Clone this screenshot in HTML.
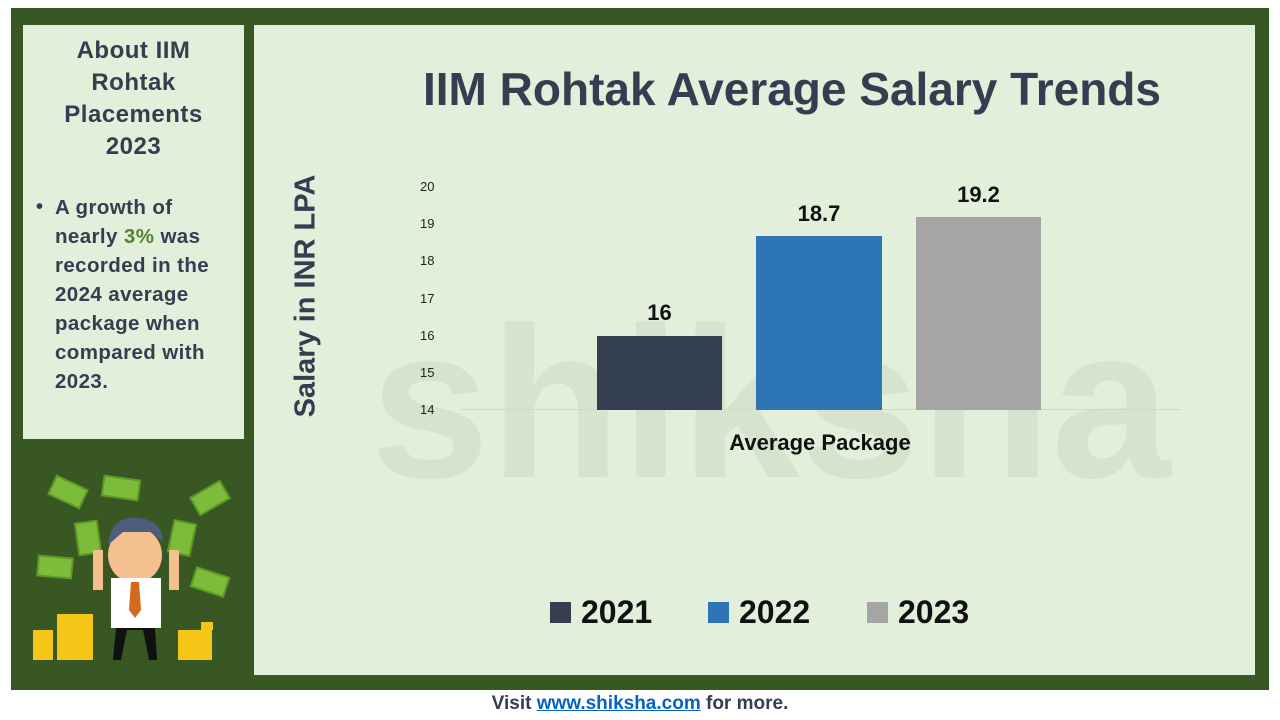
<!DOCTYPE html>
<html><head><meta charset="utf-8"><style>
*{margin:0;padding:0;box-sizing:border-box}
body{width:1280px;height:720px;background:#fff;position:relative;overflow:hidden;font-family:"Liberation Sans","DejaVu Sans",sans-serif;color:#333f50}
.abs{position:absolute}
</style></head><body>
<div class="abs" style="left:11px;top:8px;width:1258px;height:682px;background:#385723"></div>
<div class="abs" style="left:23px;top:25px;width:221px;height:414px;background:#e2efda"></div>
<div class="abs" style="left:254px;top:25px;width:1001px;height:650px;background:#e2efda;overflow:hidden">
<div class="abs" style="left:116px;top:270px;font-size:215px;font-weight:bold;color:#d6e3ce;letter-spacing:0px;line-height:1">shiksha</div>
</div>
<div class="abs" style="left:23px;top:35px;width:221px;text-align:center;font-size:24px;font-weight:bold;line-height:32px;letter-spacing:0.5px">About IIM<br>Rohtak<br>Placements<br>2023</div>
<div class="abs" style="left:36px;top:193px;font-size:20px;font-weight:bold;line-height:29px">•</div>
<div class="abs" style="left:55px;top:193px;width:180px;font-size:20.5px;font-weight:bold;line-height:29px;letter-spacing:0.4px">A growth of nearly <span style="color:#548235">3%</span> was recorded in the 2024 average package when compared with 2023.</div>
<svg class="abs" style="left:23px;top:460px" width="221" height="210">
<g fill="#7dbb3a" stroke="#5c9a25" stroke-width="2">
<rect x="28" y="22" width="34" height="20" transform="rotate(25 45 32)"/>
<rect x="80" y="18" width="36" height="20" transform="rotate(8 98 28)"/>
<rect x="170" y="28" width="34" height="20" transform="rotate(-30 187 38)"/>
<rect x="54" y="62" width="22" height="32" transform="rotate(-8 65 78)"/>
<rect x="148" y="62" width="22" height="32" transform="rotate(12 159 78)"/>
<rect x="15" y="97" width="34" height="20" transform="rotate(5 32 107)"/>
<rect x="170" y="112" width="34" height="20" transform="rotate(18 187 122)"/>
</g>
<g fill="#f5c518"><rect x="10" y="170" width="20" height="30"/><rect x="34" y="154" width="36" height="46"/><rect x="155" y="170" width="34" height="30"/><rect x="178" y="162" width="12" height="8"/></g>
<ellipse cx="112" cy="95" rx="27" ry="28" fill="#f5c08f"/>
<path d="M85 85 Q88 55 115 58 Q140 60 140 82 L128 72 L100 72Z" fill="#4b5f7d"/>
<rect x="88" y="118" width="50" height="50" fill="#fff"/>
<path d="M108 122 L116 122 L118 150 L112 158 L106 150Z" fill="#d2691e"/>
<path d="M93 168 L90 200 L98 200 L104 170 L120 170 L126 200 L134 200 L132 168Z" fill="#111"/>
<rect x="70" y="90" width="10" height="40" fill="#f5c08f"/><rect x="146" y="90" width="10" height="40" fill="#f5c08f"/>
</svg>
<div class="abs" style="left:392px;top:62px;width:800px;text-align:center;font-size:46px;font-weight:bold;color:#333f50;white-space:nowrap">IIM Rohtak Average Salary Trends</div>
<div class="abs" style="left:306px;top:296px;transform:translate(-50%,-50%) rotate(-90deg);font-size:29px;font-weight:bold;white-space:nowrap;color:#333f50">Salary in INR LPA</div>
<div class="abs" style="left:420px;top:178px;width:24px;font-size:13px;color:#222;line-height:18px;text-align:right">
<div style="position:absolute;top:0">20</div><div style="position:absolute;top:37px">19</div><div style="position:absolute;top:74px">18</div><div style="position:absolute;top:112px">17</div><div style="position:absolute;top:149px">16</div><div style="position:absolute;top:186px">15</div><div style="position:absolute;top:223px">14</div></div>
<div class="abs" style="left:460px;top:409px;width:720px;height:1px;background:#cfd8cc"></div>
<div class="abs" style="left:597px;top:336px;width:125px;height:74px;background:#333f50"></div>
<div class="abs" style="left:756px;top:236px;width:126px;height:174px;background:#2e75b6"></div>
<div class="abs" style="left:916px;top:217px;width:125px;height:193px;background:#a5a5a5"></div>
<div class="abs" style="left:597px;top:300px;width:125px;text-align:center;font-size:22px;font-weight:bold;color:#111">16</div>
<div class="abs" style="left:756px;top:201px;width:126px;text-align:center;font-size:22px;font-weight:bold;color:#111">18.7</div>
<div class="abs" style="left:916px;top:182px;width:125px;text-align:center;font-size:22px;font-weight:bold;color:#111">19.2</div>
<div class="abs" style="left:660px;top:430px;width:320px;text-align:center;font-size:22px;font-weight:bold;color:#111">Average Package</div>
<div class="abs" style="left:550px;top:602px;width:21px;height:21px;background:#333f50"></div>
<div class="abs" style="left:581px;top:594px;font-size:32px;font-weight:bold;color:#111">2021</div>
<div class="abs" style="left:708px;top:602px;width:21px;height:21px;background:#2e75b6"></div>
<div class="abs" style="left:739px;top:594px;font-size:32px;font-weight:bold;color:#111">2022</div>
<div class="abs" style="left:867px;top:602px;width:21px;height:21px;background:#a5a5a5"></div>
<div class="abs" style="left:898px;top:594px;font-size:32px;font-weight:bold;color:#111">2023</div>
<div class="abs" style="left:0;top:693px;width:1280px;text-align:center;font-size:19px;font-weight:bold;color:#333f50">Visit <span style="color:#0563c1;text-decoration:underline">www.shiksha.com</span> for more.</div>
</body></html>
